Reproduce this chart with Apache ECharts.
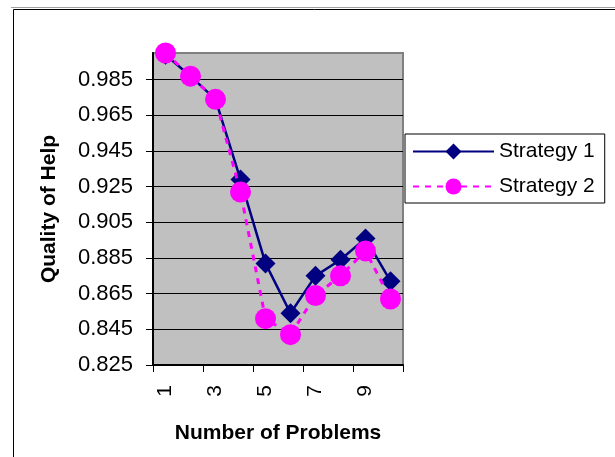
<!DOCTYPE html>
<html>
<head>
<meta charset="utf-8">
<script src="https://cdn.jsdelivr.net/npm/echarts@6/dist/echarts.min.js"></script>
<style>html,body{margin:0;padding:0;background:#fff;}#c{width:615px;height:457px;}</style>
</head>
<body>
<div id="c"></div>
<script>
const categories = ['1','2','3','4','5','6','7','8','9','10'];
const strategy1 = [0.999, 0.987, 0.974, 0.929, 0.882, 0.854, 0.875, 0.884, 0.896, 0.872];
const strategy2 = [1.000, 0.987, 0.974, 0.922, 0.851, 0.842, 0.864, 0.875, 0.889, 0.862];
const yMin = 0.825, yMax = 1.0, yStep = 0.02;

const chart = echarts.init(document.getElementById('c'), null, {renderer: 'canvas'});
const font = 'Liberation Sans, Arial, sans-serif';
chart.setOption({
  animation: false,
  backgroundColor: '#fff',
  textStyle: {fontFamily: font, color: '#000'},
  graphic: [
    {type: 'line', shape: {x1: 11, y1: 7.5, x2: 615, y2: 7.5}, style: {stroke: '#a0a0a0', lineWidth: 1}, silent: true},
    {type: 'rect', shape: {x: 13.5, y: 9.5, width: 620, height: 470}, style: {fill: 'none', stroke: '#000', lineWidth: 1}, silent: true}
  ],
  grid: {left: 153, top: 53, right: 212, bottom: 92, show: true, backgroundColor: '#C0C0C0', borderColor: '#808080', borderWidth: 2},
  legend: {
    orient: 'vertical', left: 405, top: 134,
    backgroundColor: '#fff', borderColor: '#000', borderWidth: 1,
    padding: [7, 10, 6, 7], itemWidth: 81, itemHeight: 20, itemGap: 14,
    textStyle: {fontSize: 21, fontFamily: font, color: '#000'},
    data: ['Strategy 1', 'Strategy 2']
  },
  xAxis: {
    type: 'category', data: categories, boundaryGap: true,
    name: 'Number of Problems', nameLocation: 'middle', nameGap: 58,
    nameTextStyle: {fontSize: 21, fontWeight: 'bold', fontFamily: font, color: '#000'},
    axisLine: {lineStyle: {color: '#000', width: 2}},
    axisTick: {show: true, length: 7, lineStyle: {color: '#000', width: 1}},
    axisLabel: {interval: 1, rotate: 90, fontSize: 21, margin: 20, color: '#000', fontFamily: font},
    splitLine: {show: false}
  },
  yAxis: {
    type: 'value', min: yMin, max: yMax, interval: yStep,
    name: 'Quality of Help', nameLocation: 'middle', nameGap: 93, nameRotate: 90,
    nameTextStyle: {fontSize: 21, fontWeight: 'bold', fontFamily: font, color: '#000'},
    axisLine: {show: true, lineStyle: {color: '#000', width: 2}},
    axisTick: {show: true, length: 7, lineStyle: {color: '#000', width: 1}},
    axisLabel: {fontSize: 22, margin: 20, color: '#000', fontFamily: font, showMaxLabel: false,
      formatter: v => v.toFixed(3)},
    splitLine: {show: true, showMaxLine: false, lineStyle: {color: '#000', width: 1}}
  },
  series: [
    {name: 'Strategy 1', type: 'line', data: strategy1, symbol: 'diamond', symbolSize: 20, showAllSymbol: true,
      lineStyle: {color: '#000080', width: 2.5}, itemStyle: {color: '#000080'}, z: 2},
    {name: 'Strategy 2', type: 'line', data: strategy2, symbol: 'circle', symbolSize: 21, showAllSymbol: true,
      lineStyle: {color: '#FF00FF', width: 3, type: [6, 6]}, itemStyle: {color: '#FF00FF'}, z: 3}
  ]
});
</script>
</body>
</html>
